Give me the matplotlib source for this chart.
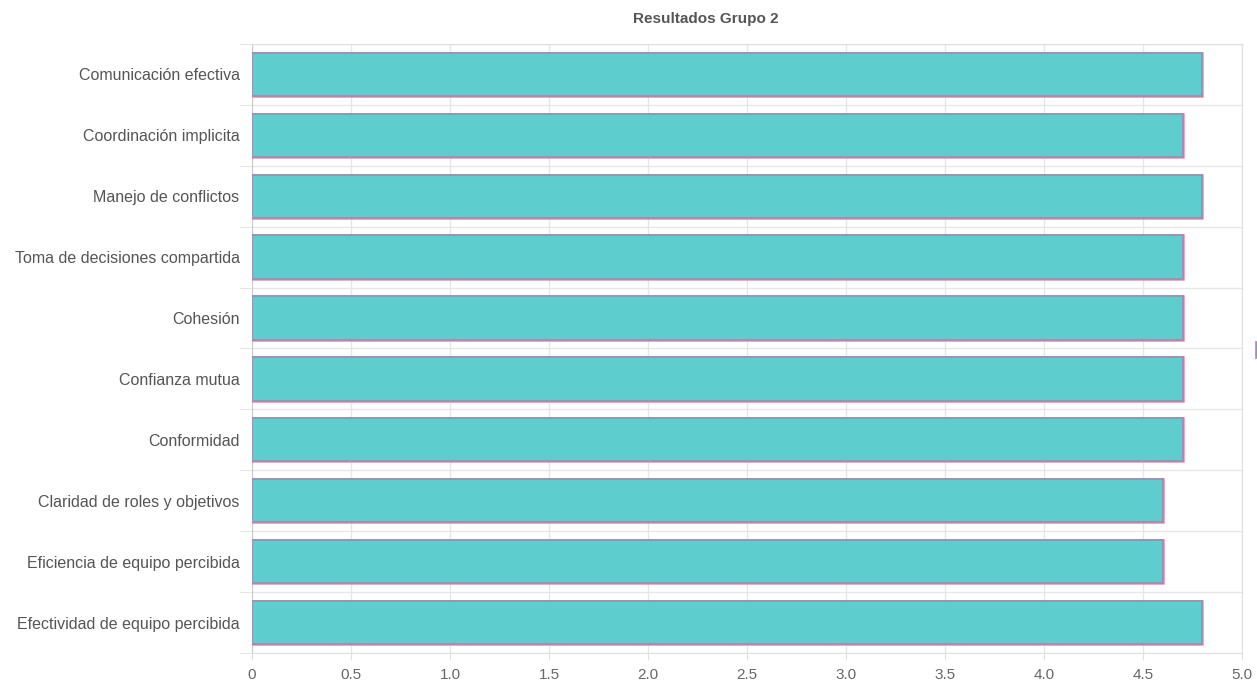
import matplotlib.pyplot as plt
from matplotlib.patches import Rectangle

# Group 2 scores per dimension
dimensions = [
    "Comunicación efectiva",
    "Coordinación implicita",
    "Manejo de conflictos",
    "Toma de decisiones compartida",
    "Cohesión",
    "Confianza mutua",
    "Conformidad",
    "Claridad de roles y objetivos",
    "Eficiencia de equipo percibida",
    "Efectividad de equipo percibida",
]
scores = [4.8, 4.7, 4.8, 4.7, 4.7, 4.7, 4.7, 4.6, 4.6, 4.8]
x_ticks = [0, 0.5, 1.0, 1.5, 2.0, 2.5, 3.0, 3.5, 4.0, 4.5, 5.0]
x_tick_labels = ["0", "0.5", "1.0", "1.5", "2.0", "2.5", "3.0", "3.5", "4.0", "4.5", "5.0"]

plt.rcParams["font.family"] = ["Liberation Sans", "DejaVu Sans"]

fig = plt.figure(figsize=(12.57, 6.86), dpi=100)
ax = fig.add_axes([0.2005, 0.048, 0.7875, 0.888])

positions = list(range(len(dimensions)))
# faint pink outline underneath, purple-gray edge on top
ax.barh(positions, scores, height=0.71, color="#5ECDCE",
        edgecolor="#F08AAA", linewidth=1.8, zorder=3)
ax.barh(positions, scores, height=0.71, color="#5ECDCE",
        edgecolor="#9C90B4", linewidth=1.3, zorder=4)

ax.set_xlim(0, 5.0)
ax.set_ylim(len(dimensions) - 0.5, -0.5)

ax.set_xticks(x_ticks)
ax.set_xticklabels(x_tick_labels)
ax.set_yticks(positions)
ax.set_yticklabels(dimensions)
ax.set_yticks([p - 0.5 for p in positions] + [len(dimensions) - 0.5], minor=True)

ax.tick_params(axis="x", length=5, color="#E0E0E0", labelcolor="#666666",
               labelsize=11, pad=6)
ax.tick_params(axis="y", which="major", length=0, labelcolor="#555555",
               labelsize=11.5, pad=9)
ax.tick_params(axis="y", which="minor", length=9, color="#E0E0E0")

ax.grid(axis="x", color="#E6E6E6", linewidth=1, zorder=0)
ax.grid(axis="y", which="minor", color="#E6E6E6", linewidth=1, zorder=0)
ax.set_axisbelow(True)

for side in ["top", "right", "bottom"]:
    ax.spines[side].set_color("#E0E0E0")
ax.spines["left"].set_color("#CCCCCC")

fig.text(0.5615, 0.972, "Resultados Grupo 2", ha="center", va="center",
         fontsize=11, fontweight="bold", color="#555555")

# clipped legend swatch at the right edge
fig.patches.append(Rectangle((1255 / 1257, 1 - 358 / 686), 10 / 1257, 17 / 686,
                             transform=fig.transFigure, facecolor="#9C90B4",
                             edgecolor="#F08AAA", linewidth=0.8))

fig.savefig("out.png", dpi=100)
